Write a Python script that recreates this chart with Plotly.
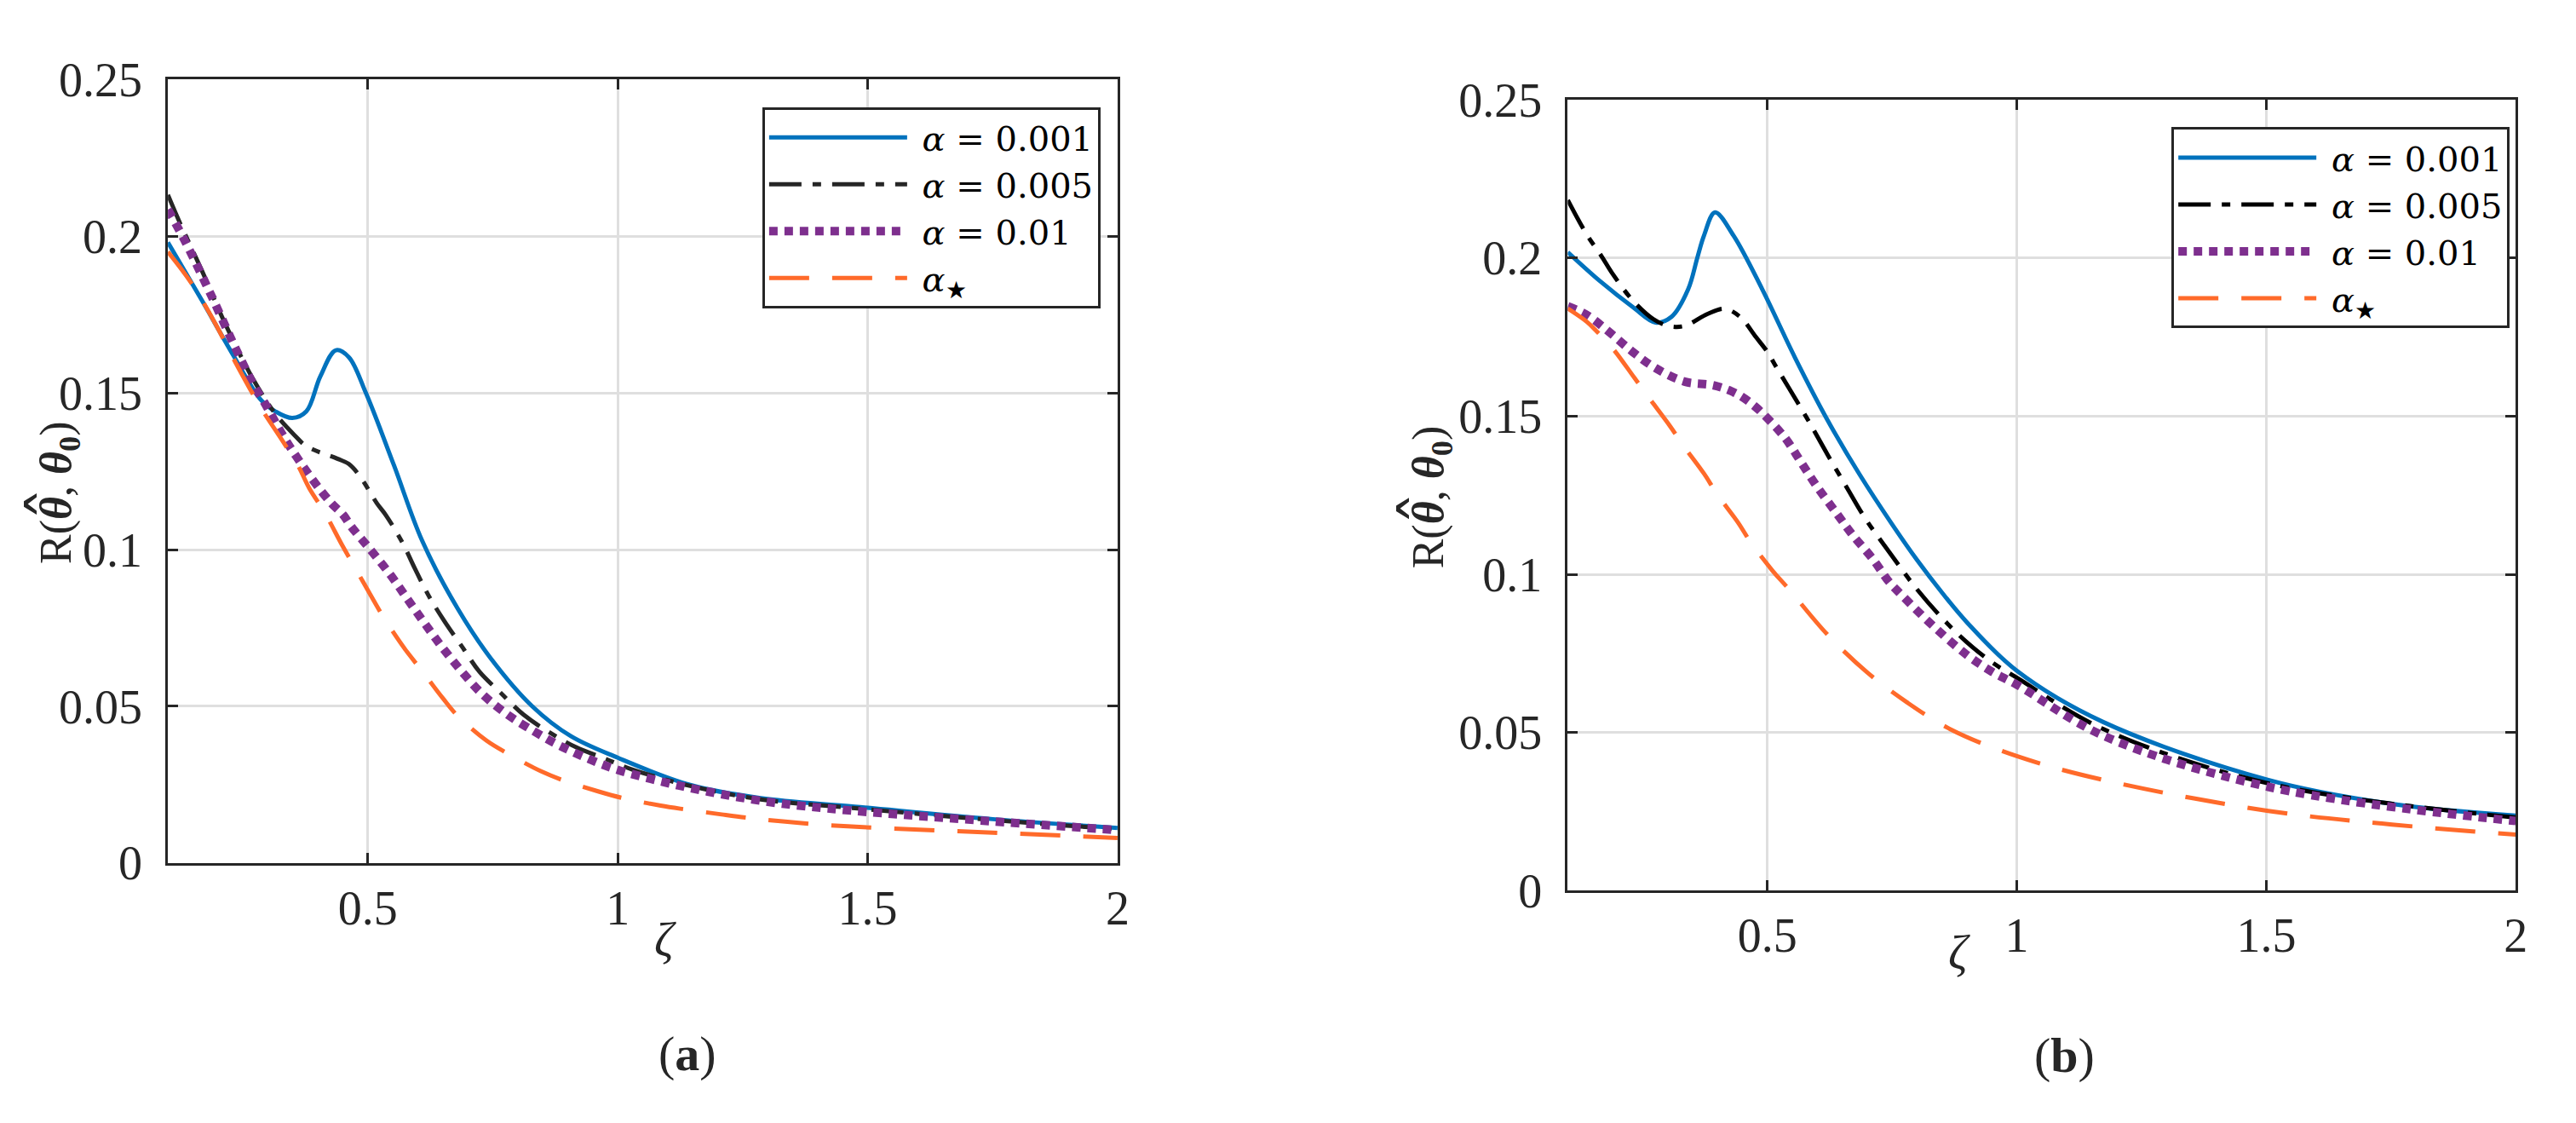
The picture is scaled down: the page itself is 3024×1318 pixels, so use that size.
import plotly.graph_objects as go

W, H = 3024, 1318

# ---------------- data: panel (a) ----------------
zeta_a_blue = [0.10, 0.168, 0.230, 0.287, 0.315, 0.349, 0.377, 0.405, 0.436, 0.462, 0.496, 0.552,
               0.609, 0.680, 0.745, 0.829, 0.906, 1.000, 1.145, 1.286, 1.474, 1.75, 2.00]
risk_a_blue = [0.198, 0.1795, 0.1622, 0.1476, 0.1441, 0.1420, 0.1441, 0.1553, 0.1636, 0.1614, 0.1500, 0.1270,
               0.1027, 0.0811, 0.0655, 0.0500, 0.0405, 0.0336, 0.0249, 0.0207, 0.0180, 0.0140, 0.0112]

zeta_a_black = [0.10, 0.123, 0.168, 0.213, 0.270, 0.315, 0.354, 0.377, 0.439, 0.462, 0.484, 0.518, 0.536,
                0.569, 0.594, 0.621, 0.653, 0.689, 0.723, 0.765, 0.811, 0.863, 0.916, 0.976, 1.030,
                1.145, 1.286, 1.474, 1.75, 2.00]
risk_a_black = [0.2132, 0.2046, 0.1890, 0.1726, 0.1545, 0.1433, 0.1364, 0.1330, 0.1290, 0.1273, 0.1234, 0.1148, 0.1110,
                0.1023, 0.0940, 0.0855, 0.0772, 0.0689, 0.0611, 0.0544, 0.0474, 0.0417, 0.0370, 0.0332, 0.0298,
                0.0246, 0.0203, 0.0175, 0.0137, 0.0108]

zeta_a_purple = [0.10, 0.134, 0.185, 0.236, 0.275, 0.292, 0.337, 0.390, 0.427, 0.451, 0.466, 0.505, 0.544,
                 0.578, 0.614, 0.650, 0.688, 0.729, 0.779, 0.836, 0.882, 0.942, 0.998, 1.09, 1.18, 1.306,
                 1.462, 1.75, 2.00]
risk_a_purple = [0.2085, 0.1985, 0.1817, 0.1640, 0.1515, 0.1472, 0.1346, 0.1222, 0.1148, 0.1110, 0.1075, 0.1000, 0.0922,
                 0.0845, 0.0764, 0.0686, 0.0611, 0.0539, 0.0474, 0.0417, 0.0376, 0.0332, 0.0298, 0.0259, 0.0228, 0.0194,
                 0.0168, 0.0133, 0.0105]

zeta_a_orange = [0.10, 0.145, 0.190, 0.241, 0.287, 0.326, 0.360, 0.383, 0.414, 0.449, 0.473, 0.509, 0.533,
                 0.575, 0.604, 0.650, 0.680, 0.737, 0.779, 0.846, 0.889, 0.962, 1.008, 1.086, 1.135, 1.208,
                 1.257, 1.335, 1.46, 1.75, 2.00]
risk_a_orange = [0.1950, 0.1855, 0.1735, 0.1580, 0.1450, 0.1355, 0.1269, 0.1195, 0.1117, 0.1013, 0.0946, 0.0845, 0.0780,
                 0.0681, 0.0622, 0.0526, 0.0469, 0.0391, 0.0350, 0.0293, 0.0265, 0.0228, 0.0208, 0.0183, 0.0171, 0.0155,
                 0.0145, 0.0132, 0.0117, 0.0097, 0.0080]

# ---------------- data: panel (b) ----------------
zeta_b_blue = [0.10, 0.165, 0.230, 0.2756, 0.308, 0.341, 0.360, 0.373, 0.395, 0.432, 0.490, 0.555, 0.620,
               0.685, 0.750, 0.800, 0.850, 0.900, 1.000, 1.173, 1.504, 1.752, 2.00]
risk_b_blue = [0.2018, 0.1926, 0.1845, 0.1796, 0.1814, 0.1900, 0.2003, 0.2071, 0.2144, 0.2071, 0.1900, 0.1686, 0.1489,
               0.1315, 0.1158, 0.1045, 0.0942, 0.0848, 0.0695, 0.0533, 0.0350, 0.0274, 0.0237]

zeta_b_black = [0.10, 0.139, 0.165, 0.191, 0.230, 0.272, 0.302, 0.334, 0.380, 0.415, 0.445, 0.477, 0.500,
                0.516, 0.542, 0.581, 0.620, 0.659, 0.698, 0.744, 0.796, 0.850, 0.900, 0.950, 1.000, 1.173, 1.504, 2.00]
risk_b_black = [0.2183, 0.2071, 0.2012, 0.1947, 0.1866, 0.1806, 0.1785, 0.1785, 0.1823, 0.1839, 0.1814, 0.1750, 0.1703,
                0.1660, 0.1592, 0.1489, 0.1380, 0.1275, 0.1172, 0.1071, 0.0960, 0.0862, 0.0785, 0.0722, 0.0673,
                0.0511, 0.0339, 0.0231]

zeta_b_purple = [0.10, 0.139, 0.185, 0.230, 0.2756, 0.334, 0.393, 0.438, 0.474, 0.497, 0.536, 0.568, 0.600,
                 0.640, 0.672, 0.711, 0.744, 0.770, 0.830, 0.900, 0.950, 1.000, 1.173, 1.504, 2.00]
risk_b_purple = [0.1847, 0.1819, 0.1763, 0.1703, 0.1652, 0.1609, 0.1597, 0.1571, 0.1532, 0.1498, 0.1430, 0.1353, 0.1276,
                 0.1190, 0.1122, 0.1049, 0.0976, 0.0933, 0.0840, 0.0745, 0.0692, 0.0651, 0.0490, 0.0328, 0.0220]

zeta_b_orange = [0.10, 0.139, 0.1585, 0.191, 0.233, 0.2626, 0.305, 0.331, 0.373, 0.399, 0.441, 0.467, 0.511,
                 0.542, 0.620, 0.700, 0.780, 0.867, 1.000, 1.173, 1.504, 1.752, 2.00]
risk_b_orange = [0.1840, 0.1797, 0.1767, 0.1712, 0.1622, 0.1558, 0.1468, 0.1408, 0.1318, 0.1254, 0.1164, 0.1100, 0.1010,
                 0.0955, 0.0810, 0.0690, 0.0595, 0.0510, 0.0425, 0.0350, 0.0252, 0.0209, 0.0177]

series_names = ["\u00a0<i>α</i> = 0.001", "\u00a0<i>α</i> = 0.005", "\u00a0<i>α</i> = 0.01",
                "\u00a0<i>α</i><sub>★</sub>"]
x_ticks = [0.5, 1, 1.5, 2]
x_ticklabels = ["0.5", "1", "1.5", "2"]
y_ticks = [0, 0.05, 0.1, 0.15, 0.2, 0.25]
y_ticklabels = ["0", "0.05", "0.1", "0.15", "0.2", "0.25"]

BLUE = "#0072BD"
PURPLE = "#7E2F8E"
ORANGE = "#FF6A2A"
AXC = "#262626"
FONT = "Liberation Serif"
LEGEND_FONT = "DejaVu Serif"

fig = go.Figure()

def add(x, y, name, color, width, dash, xa, ya, legend):
    fig.add_trace(go.Scatter(
        x=x, y=y, mode="lines", name=name,
        line=dict(color=color, width=width, dash=dash, shape="spline", smoothing=1.0),
        xaxis=xa, yaxis=ya, legend=legend, hoverinfo="skip"))

styles_a = [(BLUE, 5, "solid"), ("#262626", 5, "38px,13px,10px,13px"),
            (PURPLE, 10, "10px,8px"), (ORANGE, 5, "47px,27px")]
styles_b = [(BLUE, 5, "solid"), ("#000000", 5, "38px,13px,10px,13px"),
            (PURPLE, 10, "10px,8px"), (ORANGE, 5, "47px,27px")]

data_a = [(zeta_a_blue, risk_a_blue), (zeta_a_black, risk_a_black),
          (zeta_a_purple, risk_a_purple), (zeta_a_orange, risk_a_orange)]
data_b = [(zeta_b_blue, risk_b_blue), (zeta_b_black, risk_b_black),
          (zeta_b_purple, risk_b_purple), (zeta_b_orange, risk_b_orange)]

for (x, y), (c, w, d), n in zip(data_a, styles_a, series_names):
    add(x, y, n, c, w, d, "x", "y", "legend")
for (x, y), (c, w, d), n in zip(data_b, styles_b, series_names):
    add(x, y, n, c, w, d, "x2", "y2", "legend2")

axis_common = dict(
    showline=True, linewidth=3, linecolor=AXC, mirror="allticks",
    ticks="inside", ticklen=12, tickwidth=3, tickcolor=AXC,
    showgrid=True, gridcolor="#dfdfdf", gridwidth=3, zeroline=False,
    tickfont=dict(family=FONT, size=56, color=AXC),
)

xa_common = dict(axis_common, range=[0.1, 2], tickmode="array", tickvals=x_ticks,
                 ticktext=x_ticklabels, ticklabelstandoff=2)
ya_common = dict(axis_common, range=[0, 0.25], tickmode="array", tickvals=y_ticks,
                 ticktext=y_ticklabels, ticklabelstandoff=16)

legend_common = dict(
    xanchor="left", yanchor="top", bgcolor="white", bordercolor=AXC, borderwidth=3,
    font=dict(family=LEGEND_FONT, size=40, color="#000000"), itemwidth=162, tracegroupgap=0,
    itemclick=False, itemdoubleclick=False,
)

fig.update_layout(
    width=W, height=H, margin=dict(l=0, r=0, t=0, b=0, pad=0),
    paper_bgcolor="white", plot_bgcolor="white", showlegend=True,
    xaxis=dict(xa_common, domain=[190 / W, 1310 / W], anchor="y"),
    yaxis=dict(ya_common, domain=[1 - 1023 / H, 1 - 58 / H], anchor="x"),
    xaxis2=dict(xa_common, domain=[1841 / W, 2959 / W], anchor="y2"),
    yaxis2=dict(ya_common, domain=[1 - 1057 / H, 1 - 83 / H], anchor="x2"),
    legend=dict(legend_common, x=891 / W, y=1 - 92 / H),
    legend2=dict(legend_common, x=2553 / W, y=1 - 117 / H),
)

ylab = "R(<b><i>θ</i></b>, <b><i>θ</i><sub>0</sub></b>)"
annots = [
    dict(x=62 / W, y=1 - 567 / H, text=ylab, textangle=-90, size=52, font=FONT),
    dict(x=1680 / W, y=1 - 572 / H, text=ylab, textangle=-90, size=52, font=FONT),
    dict(x=58 / W, y=1 - 581 / H, text="ˆ", textangle=-90, size=80, font="DejaVu Serif"),
    dict(x=1676 / W, y=1 - 586 / H, text="ˆ", textangle=-90, size=80, font="DejaVu Serif"),
    dict(x=777 / W, y=1 - 1118 / H, text="<i>ζ</i>", textangle=0, size=56, font=FONT),
    dict(x=2303 / W, y=1 - 1133 / H, text="<i>ζ</i>", textangle=0, size=56, font=FONT),
    dict(x=803 / W, y=1 - 1258 / H, text="(<b>a</b>)", textangle=0, size=58, font=FONT),
    dict(x=2427 / W, y=1 - 1260 / H, text="(<b>b</b>)", textangle=0, size=58, font=FONT),
]
for a in annots:
    fig.add_annotation(x=a["x"], y=a["y"], xref="paper", yref="paper", text=a["text"],
                       textangle=a["textangle"], showarrow=False, xanchor="center", yanchor="middle",
                       font=dict(family=a["font"], size=a["size"], color=AXC))

fig.write_html("out.html")
